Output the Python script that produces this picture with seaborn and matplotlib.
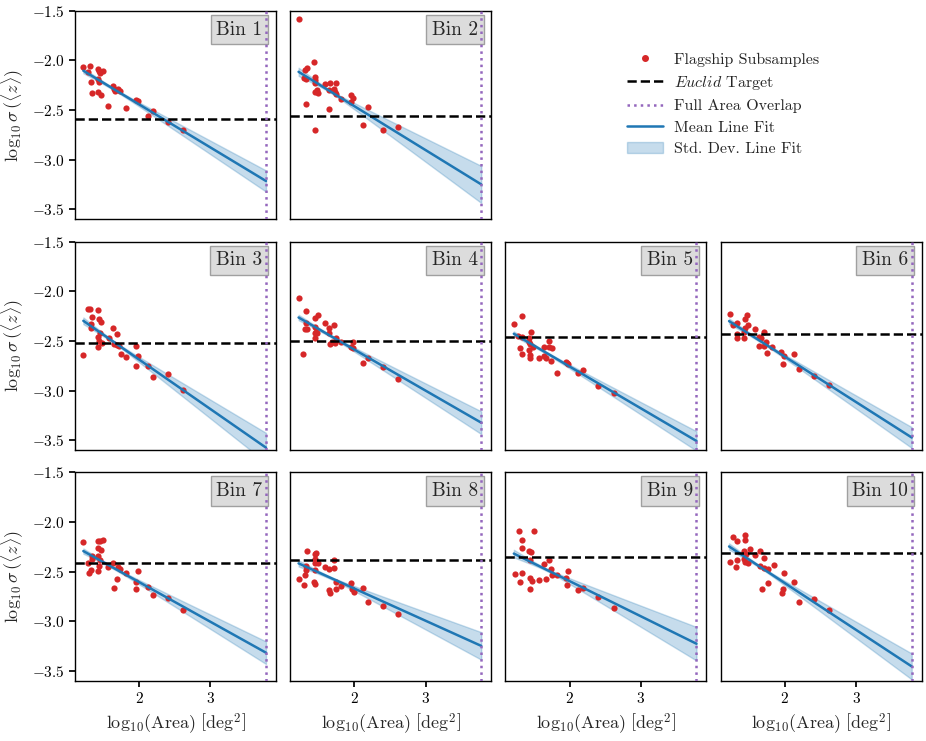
import numpy as np
import pandas as pd
import matplotlib.pyplot as plt
import seaborn as sns
from matplotlib.lines import Line2D
from matplotlib.patches import Patch

# --- data: log10(area) vs log10 sigma(<z>) per tomographic bin ---
area_bin1 = [1.217, 1.311, 1.283, 1.429, 1.443, 1.490, 1.452, 1.429, 1.438, 1.321, 1.429, 1.335, 1.466,
             1.640, 1.649, 1.710, 1.734, 1.663, 1.954, 1.983, 1.569, 1.814, 2.189, 2.119, 2.400, 2.612]
sigma_bin1 = [-2.070, -2.057, -2.114, -2.087, -2.107, -2.104, -2.131, -2.188, -2.215, -2.215, -2.315, -2.329, -2.346,
              -2.258, -2.292, -2.292, -2.305, -2.305, -2.399, -2.406, -2.463, -2.483, -2.507, -2.560, -2.624, -2.701]

area_bin2 = [1.227, 1.429, 1.443, 1.443, 1.443, 1.321, 1.288, 1.302, 1.335, 1.584, 1.663, 1.743, 1.640, 1.710,
             1.724, 1.748, 1.452, 1.490, 1.476, 1.818, 1.959, 1.983, 1.959, 1.325, 1.649, 2.194, 1.443, 2.119,
             2.400, 2.612]
sigma_bin2 = [-1.584, -2.013, -2.164, -2.198, -2.232, -2.188, -2.181, -2.097, -2.081, -2.238, -2.232, -2.232, -2.299,
              -2.292, -2.315, -2.342, -2.315, -2.326, -2.299, -2.389, -2.349, -2.383, -2.416, -2.443, -2.490, -2.473,
              -2.701, -2.654, -2.701, -2.674]

area_bin3 = [1.217, 1.283, 1.311, 1.335, 1.321, 1.321, 1.429, 1.443, 1.466, 1.452, 1.429, 1.443, 1.429, 1.485,
             1.579, 1.640, 1.696, 1.649, 1.696, 1.724, 1.743, 1.814, 1.954, 1.983, 1.959, 2.119, 2.189, 2.400, 2.612]
sigma_bin3 = [-2.642, -2.181, -2.184, -2.258, -2.331, -2.375, -2.191, -2.275, -2.315, -2.418, -2.458, -2.498, -2.565,
              -2.525, -2.475, -2.375, -2.432, -2.535, -2.542, -2.548, -2.632, -2.659, -2.548, -2.652, -2.749, -2.752,
              -2.859, -2.832, -2.992]

area_bin4 = [1.227, 1.325, 1.325, 1.302, 1.335, 1.443, 1.490, 1.443, 1.466, 1.443, 1.476, 1.443, 1.584, 1.649,
             1.710, 1.640, 1.748, 1.687, 1.663, 1.724, 1.818, 1.983, 1.959, 1.977, 1.283, 2.194, 2.119, 2.400, 2.612]
sigma_bin4 = [-2.068, -2.198, -2.325, -2.381, -2.381, -2.268, -2.241, -2.365, -2.408, -2.425, -2.418, -2.475, -2.318,
              -2.368, -2.341, -2.425, -2.468, -2.508, -2.535, -2.525, -2.508, -2.508, -2.558, -2.575, -2.632, -2.675,
              -2.725, -2.765, -2.886]

area_bin5 = [1.222, 1.325, 1.278, 1.325, 1.457, 1.433, 1.433, 1.443, 1.302, 1.335, 1.490, 1.433, 1.443, 1.443,
             1.574, 1.640, 1.710, 1.714, 1.748, 1.640, 1.668, 1.738, 1.818, 1.950, 1.973, 1.969, 2.123, 2.194,
             2.405, 2.616]
sigma_bin5 = [-2.331, -2.248, -2.448, -2.458, -2.408, -2.475, -2.508, -2.532, -2.568, -2.635, -2.565, -2.592, -2.642,
              -2.669, -2.675, -2.565, -2.498, -2.558, -2.575, -2.649, -2.669, -2.702, -2.819, -2.709, -2.735, -2.725,
              -2.826, -2.792, -2.959, -3.026]

area_bin6 = [1.231, 1.278, 1.325, 1.443, 1.466, 1.480, 1.443, 1.433, 1.433, 1.325, 1.325, 1.584, 1.640, 1.663,
             1.710, 1.729, 1.640, 1.710, 1.818, 1.748, 1.950, 1.992, 2.123, 1.973, 2.203, 2.415, 2.626]
sigma_bin6 = [-2.231, -2.341, -2.325, -2.275, -2.241, -2.341, -2.375, -2.408, -2.475, -2.435, -2.468, -2.385, -2.458,
              -2.475, -2.415, -2.508, -2.552, -2.552, -2.565, -2.625, -2.615, -2.652, -2.635, -2.735, -2.782, -2.852,
              -2.942]

area_bin7 = [1.217, 1.283, 1.302, 1.321, 1.335, 1.335, 1.429, 1.452, 1.490, 1.429, 1.462, 1.420, 1.452, 1.443,
             1.429, 1.569, 1.640, 1.710, 1.734, 1.814, 1.983, 1.687, 1.645, 1.959, 1.950, 2.119, 2.189, 2.400, 2.612]
sigma_bin7 = [-2.203, -2.417, -2.510, -2.483, -2.343, -2.377, -2.193, -2.193, -2.177, -2.260, -2.283, -2.343, -2.383,
              -2.443, -2.493, -2.453, -2.417, -2.450, -2.477, -2.510, -2.493, -2.570, -2.660, -2.603, -2.677, -2.653,
              -2.737, -2.767, -2.883]

area_bin8 = [1.335, 1.443, 1.466, 1.443, 1.462, 1.443, 1.490, 1.321, 1.325, 1.311, 1.227, 1.288, 1.443, 1.429,
             1.443, 1.584, 1.649, 1.710, 1.710, 1.748, 1.818, 1.743, 1.649, 1.663, 1.959, 1.969, 1.992, 2.124,
             2.194, 2.405, 2.616]
sigma_bin8 = [-2.287, -2.320, -2.310, -2.370, -2.403, -2.410, -2.410, -2.443, -2.483, -2.533, -2.577, -2.633, -2.483,
              -2.603, -2.627, -2.453, -2.477, -2.383, -2.467, -2.600, -2.643, -2.670, -2.687, -2.710, -2.610, -2.670,
              -2.703, -2.660, -2.800, -2.843, -2.927]

area_bin9 = [1.288, 1.494, 1.325, 1.335, 1.429, 1.457, 1.443, 1.231, 1.325, 1.302, 1.443, 1.466, 1.443, 1.574,
             1.663, 1.640, 1.710, 1.734, 1.748, 1.818, 1.983, 1.950, 1.959, 2.123, 2.194, 2.405, 2.616]
sigma_bin9 = [-2.087, -2.087, -2.183, -2.260, -2.293, -2.303, -2.383, -2.527, -2.510, -2.603, -2.560, -2.593, -2.670,
              -2.583, -2.577, -2.420, -2.387, -2.477, -2.533, -2.533, -2.493, -2.567, -2.637, -2.683, -2.667, -2.750,
              -2.867]

area_bin10 = [1.278, 1.325, 1.443, 1.443, 1.504, 1.433, 1.457, 1.433, 1.476, 1.443, 1.231, 1.335, 1.311, 1.584,
              1.653, 1.714, 1.658, 1.714, 1.761, 1.841, 1.992, 1.761, 1.681, 1.969, 1.959, 2.123, 2.203, 2.415, 2.626]
sigma_bin10 = [-2.153, -2.187, -2.133, -2.177, -2.270, -2.293, -2.317, -2.370, -2.410, -2.403, -2.403, -2.387, -2.453,
               -2.333, -2.293, -2.360, -2.443, -2.467, -2.477, -2.433, -2.510, -2.610, -2.670, -2.670, -2.710, -2.603,
               -2.800, -2.770, -2.887]

bin_labels = ["Bin 1", "Bin 2", "Bin 3", "Bin 4", "Bin 5", "Bin 6", "Bin 7", "Bin 8", "Bin 9", "Bin 10"]
euclid_target = [-2.590, -2.557, -2.525, -2.498, -2.465, -2.435, -2.413, -2.387, -2.350, -2.313]
fit_slope = [-0.433, -0.442, -0.498, -0.413, -0.421, -0.457, -0.399, -0.324, -0.354, -0.471]
fit_intercept = [-1.577, -1.577, -1.692, -1.762, -1.916, -1.745, -1.807, -2.022, -1.887, -1.673]
fit_slope_err = [0.050, 0.088, 0.070, 0.054, 0.046, 0.050, 0.053, 0.065, 0.080, 0.062]
full_area_overlap = 3.78
fit_start = 1.217

areas = [area_bin1, area_bin2, area_bin3, area_bin4, area_bin5,
         area_bin6, area_bin7, area_bin8, area_bin9, area_bin10]
sigmas = [sigma_bin1, sigma_bin2, sigma_bin3, sigma_bin4, sigma_bin5,
          sigma_bin6, sigma_bin7, sigma_bin8, sigma_bin9, sigma_bin10]

df = pd.concat([pd.DataFrame({"bin": lab, "log_area": a, "log_sigma": s})
                for lab, a, s in zip(bin_labels, areas, sigmas)], ignore_index=True)

# --- style ---
sns.set_theme(style="ticks")
plt.rcParams['font.family'] = 'serif'
plt.rcParams['font.serif'] = ['cmr10', 'DejaVu Serif']
plt.rcParams['mathtext.fontset'] = 'cm'
plt.rcParams['axes.formatter.use_mathtext'] = True
plt.rcParams['axes.unicode_minus'] = True
plt.rcParams['axes.edgecolor'] = 'black'
plt.rcParams['axes.linewidth'] = 1.0
plt.rcParams['xtick.color'] = 'black'
plt.rcParams['ytick.color'] = 'black'

red = '#d62728'
blue = '#1f77b4'
purple = '#9467bd'

fig, axes = plt.subplots(3, 4, figsize=(9.26, 7.41), dpi=100, sharex=True, sharey=True)
fig.subplots_adjust(left=75 / 926, right=921.7 / 926, top=1 - 10.7 / 741, bottom=1 - 681 / 741,
                    wspace=0.071, hspace=0.106)

positions = [(0, 0), (0, 1), (1, 0), (1, 1), (1, 2), (1, 3), (2, 0), (2, 1), (2, 2), (2, 3)]

for i, lab in enumerate(bin_labels):
    r, c = positions[i]
    ax = axes[r, c]
    sub = df[df["bin"] == lab]

    xs = np.linspace(fit_start, full_area_overlap, 100)
    pivot = sub["log_area"].mean()
    mean_fit = fit_intercept[i] + fit_slope[i] * xs
    half = np.sqrt(0.012 ** 2 + (fit_slope_err[i] * (xs - pivot)) ** 2)
    ax.fill_between(xs, mean_fit - half, mean_fit + half, color=blue, alpha=0.25, lw=1, zorder=2)

    sns.scatterplot(data=sub, x="log_area", y="log_sigma", color=red, s=20, linewidth=0,
                    ax=ax, zorder=3, legend=False)
    ax.plot(xs, mean_fit, color=blue, lw=1.8, zorder=4)
    ax.axhline(euclid_target[i], color='black', ls='--', lw=1.8, zorder=5)
    ax.axvline(full_area_overlap, color=purple, ls=':', lw=1.8, zorder=5)

    ax.text(0.933, 0.952, lab, transform=ax.transAxes, ha='right', va='top', fontsize=14,
            bbox=dict(boxstyle='square,pad=0.3', facecolor='#dcdcdc', edgecolor='#a0a0a0'), zorder=4.5)

    ax.set_xlim(1.1, 3.92)
    ax.set_ylim(-3.6, -1.5)
    ax.set_xticks([2, 3])
    ax.set_yticks([-3.5, -3.0, -2.5, -2.0, -1.5])
    ax.tick_params(labelsize=11, direction='out', length=4)
    ax.set_xlabel("")
    ax.set_ylabel("")
    for sp in ax.spines.values():
        sp.set_visible(True)
    if r == 2:
        ax.set_xlabel(r"$\log_{10}\!(\mathrm{Area})\ \left[\mathrm{deg}^2\right]$", fontsize=13)
    else:
        ax.tick_params(bottom=False, labelbottom=False)
    if c == 0:
        ax.set_ylabel(r"$\log_{10}\sigma\,(\langle z\rangle)$", fontsize=13)
    else:
        ax.tick_params(left=False, labelleft=False)

axes[0, 2].remove()
axes[0, 3].remove()

handles = [
    Line2D([], [], ls='none', marker='o', color=red, markersize=4),
    Line2D([], [], color='black', ls='--', lw=1.8),
    Line2D([], [], color=purple, ls=':', lw=1.8),
    Line2D([], [], color=blue, lw=1.8),
    Patch(facecolor=blue, alpha=0.25, edgecolor=blue),
]
labels = ["Flagship Subsamples", r"$\it{Euclid}$ Target", "Full Area Overlap",
          "Mean Line Fit", "Std. Dev. Line Fit"]
fig.legend(handles, labels, loc='upper left', bbox_to_anchor=(613 / 926, 1 - 38 / 741),
           frameon=False, fontsize=11.5, labelspacing=0.45, handlelength=2.2, handletextpad=0.7)

fig.savefig("out.png", dpi=100)
